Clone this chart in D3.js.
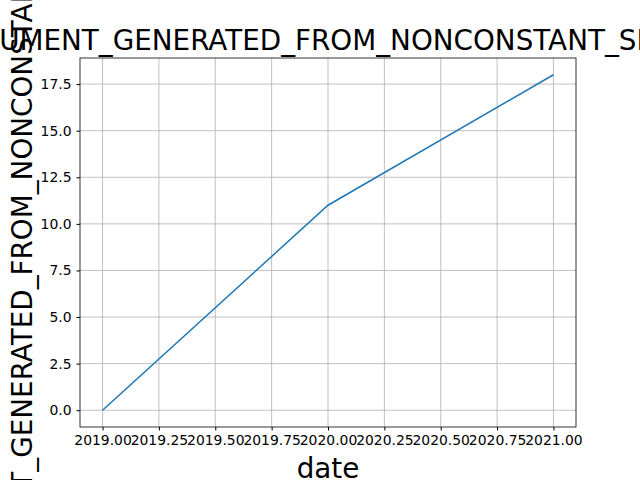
<!DOCTYPE html>
<html>
<head>
<meta charset="UTF-8">
<script src="https://cdn.jsdelivr.net/npm/d3@7/dist/d3.min.js"></script>
<style>
  body{margin:0;background:#fff;}
  text{font-family:"DejaVu Sans",sans-serif;}
</style>
</head>
<body>
<div id="canvas"></div>
<script>
// data
var dates = [2019, 2020, 2021];
var values = [0, 11, 18];
var xTicks = [2019, 2019.25, 2019.5, 2019.75, 2020, 2020.25, 2020.5, 2020.75, 2021];
var yTicks = [0, 2.5, 5, 7.5, 10, 12.5, 15, 17.5];
var label = "ARGUMENT_GENERATED_FROM_NONCONSTANT_SERIES";

var W = 640, H = 480;
var margin = {top: 58, right: 64, bottom: 53, left: 80};
var iw = W - margin.left - margin.right, ih = H - margin.top - margin.bottom;

var x = d3.scaleLinear().domain([2018.9, 2021.1]).range([0, iw]);
var y = d3.scaleLinear().domain([-0.9, 18.9]).range([ih, 0]);

var svg = d3.select("#canvas").append("svg").attr("width", W).attr("height", H);
var g = svg.append("g").attr("transform", "translate(" + margin.left + "," + margin.top + ")");

// grid
g.selectAll(".gx").data(xTicks).enter().append("line")
  .attr("x1", function(d){return x(d);}).attr("x2", function(d){return x(d);})
  .attr("y1", 0).attr("y2", ih).attr("stroke", "#b0b0b0").attr("stroke-width", 0.8);
g.selectAll(".gy").data(yTicks).enter().append("line")
  .attr("y1", function(d){return y(d);}).attr("y2", function(d){return y(d);})
  .attr("x1", 0).attr("x2", iw).attr("stroke", "#b0b0b0").attr("stroke-width", 0.8);

// axes
var xa = g.append("g").attr("transform", "translate(0," + ih + ")")
  .call(d3.axisBottom(x).tickValues(xTicks).tickFormat(d3.format(".2f")).tickSizeOuter(0).tickSize(3.5).tickPadding(5));
var ya = g.append("g")
  .call(d3.axisLeft(y).tickValues(yTicks).tickFormat(d3.format(".1f")).tickSizeOuter(0).tickSize(3.5).tickPadding(5));
[xa, ya].forEach(function(a){
  a.select(".domain").remove();
  a.selectAll("text").attr("font-size", "13.9px").attr("fill", "#000").attr("font-family", "DejaVu Sans");
  a.selectAll("line").attr("stroke", "#000");
});
g.append("rect").attr("width", iw).attr("height", ih).attr("fill", "none").attr("stroke", "#000").attr("stroke-width", 0.8);

// line
var line = d3.line().x(function(d, i){return x(dates[i]);}).y(function(d){return y(d);});
g.append("path").datum(values).attr("d", line).attr("fill", "none").attr("stroke", "#1f77b4").attr("stroke-width", 1.5);

// labels
svg.append("text").attr("x", margin.left + iw / 2).attr("y", 50).attr("text-anchor", "middle")
  .attr("font-size", "27.8px").text(label);
svg.append("text").attr("x", margin.left + iw / 2).attr("y", 478).attr("text-anchor", "middle")
  .attr("font-size", "27.8px").text("date");
svg.append("text").attr("transform", "translate(32," + (margin.top + ih / 2) + ") rotate(-90)")
  .attr("text-anchor", "middle").attr("font-size", "27.8px").text(label);
</script>
</body>
</html>
